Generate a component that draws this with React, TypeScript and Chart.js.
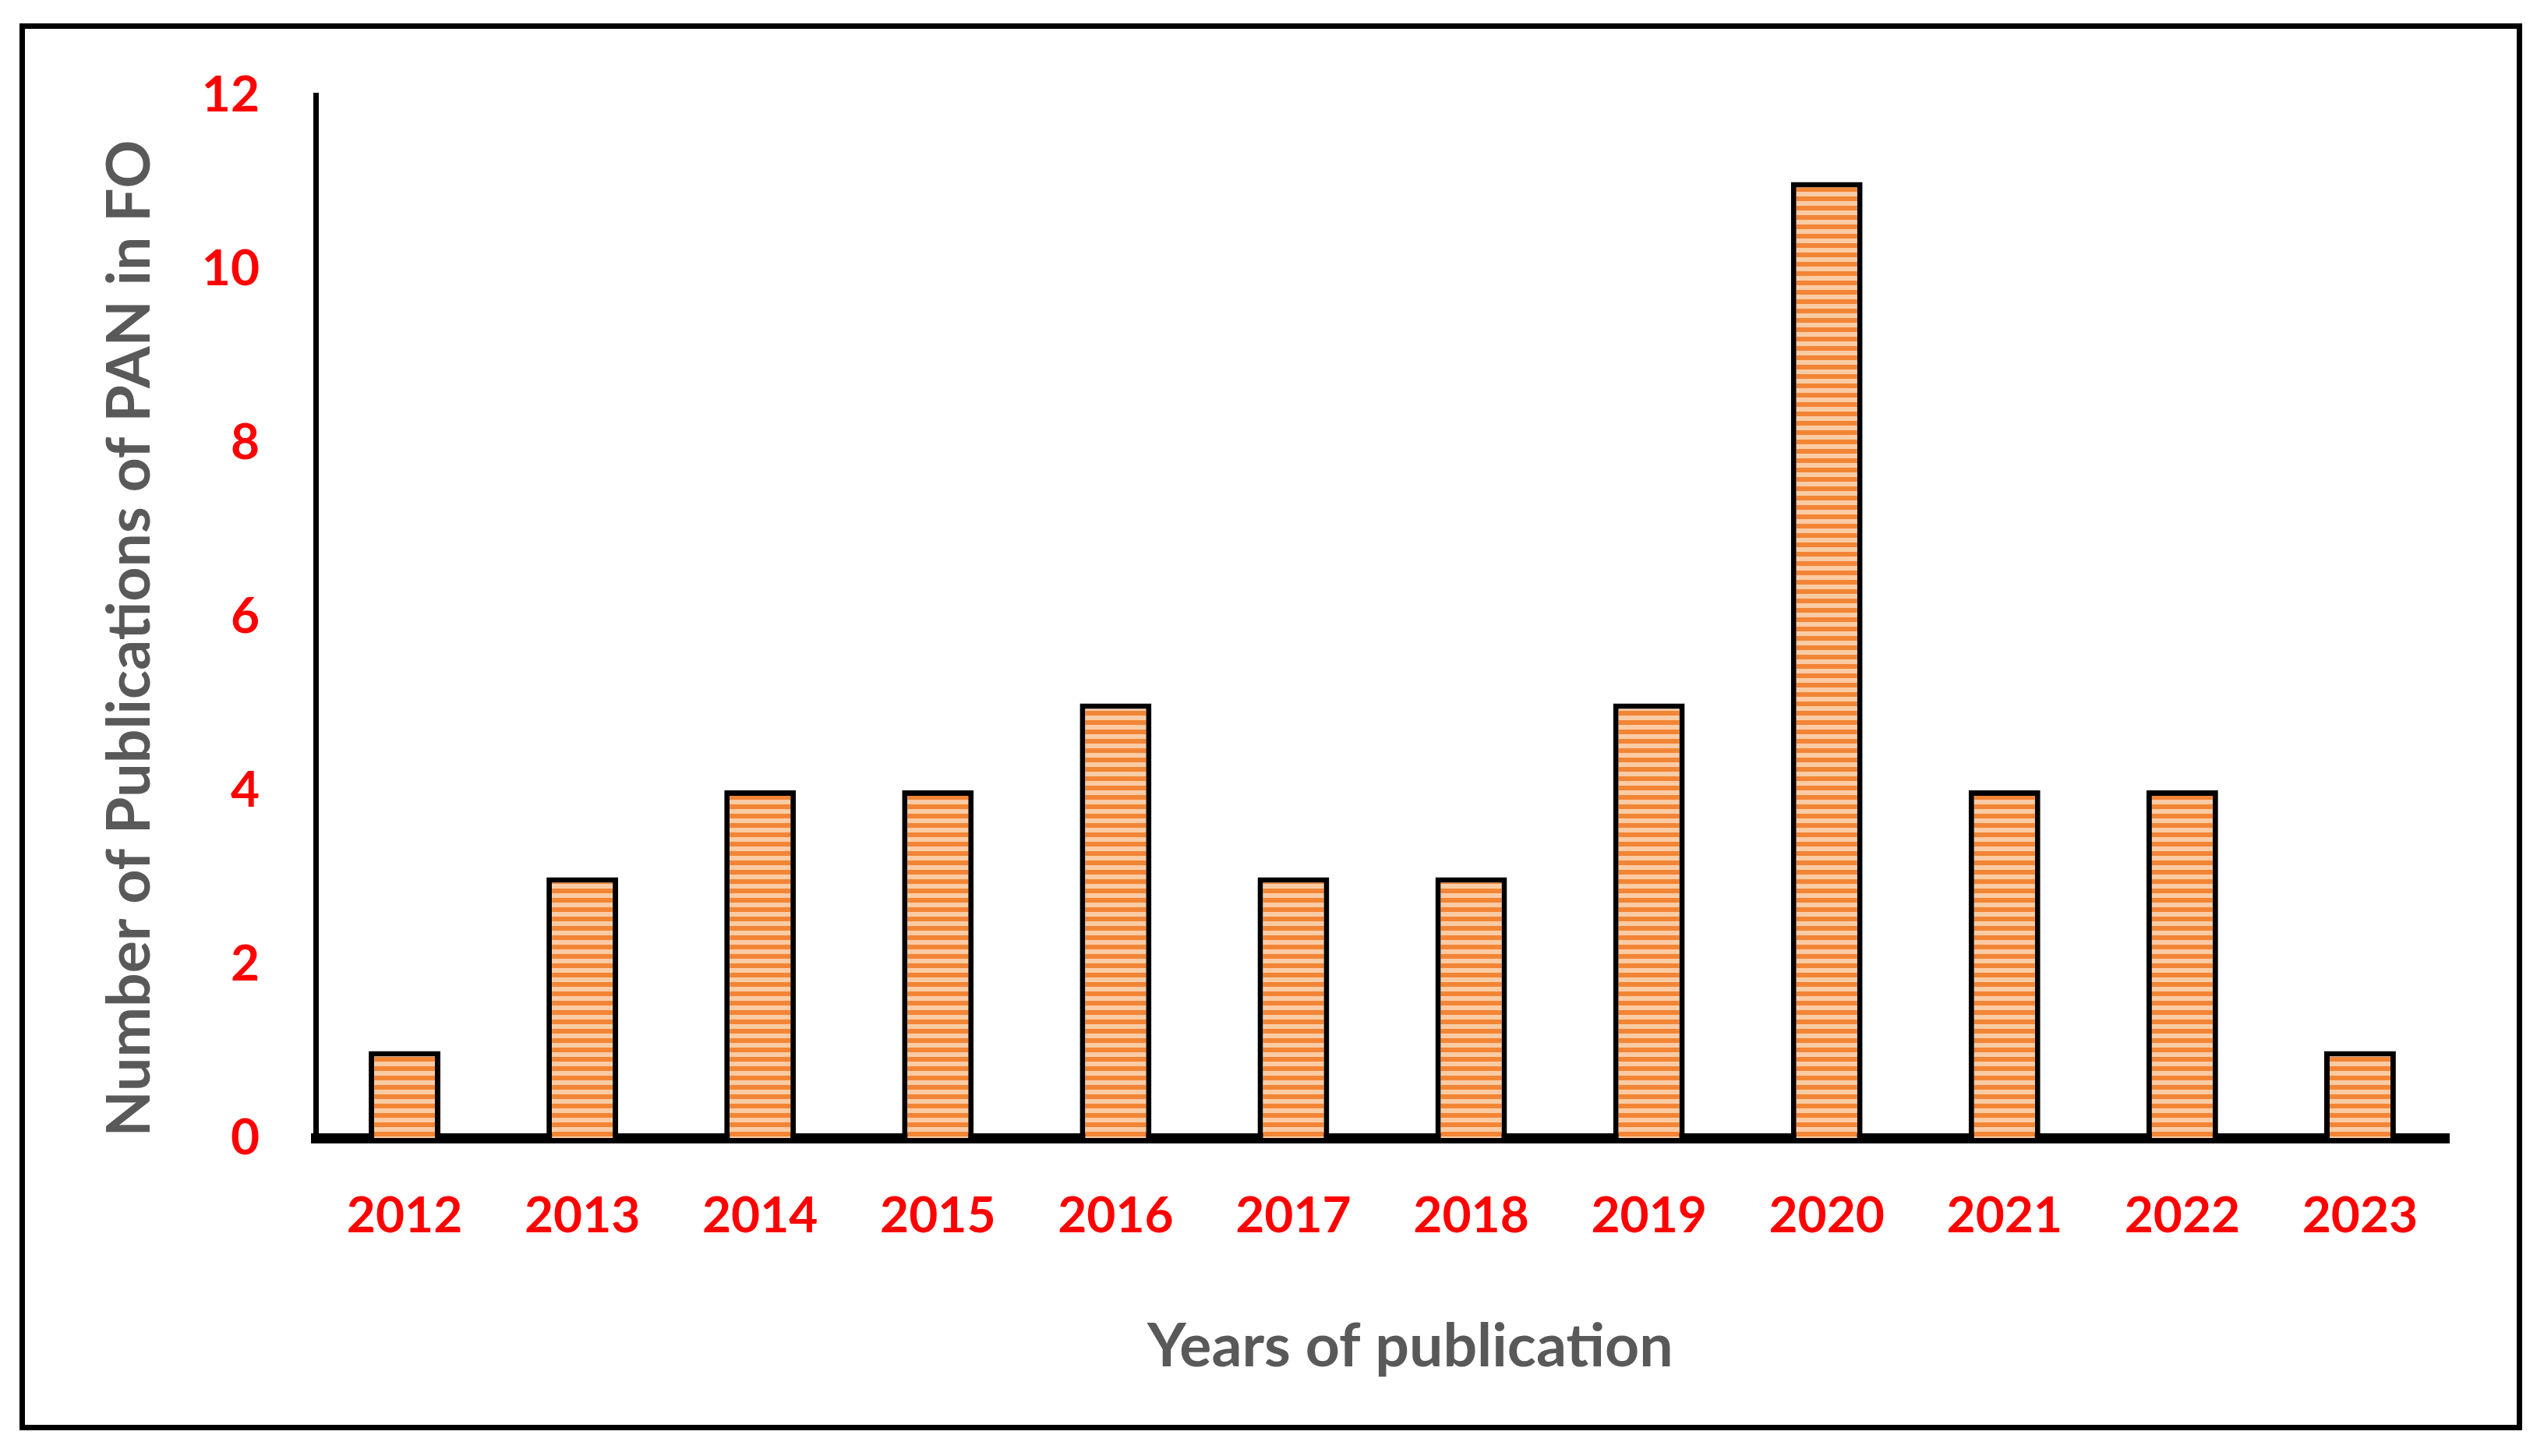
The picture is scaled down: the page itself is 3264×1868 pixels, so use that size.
import React, { useEffect, useRef } from 'react';
import { Chart, registerables } from 'chart.js';

Chart.register(...registerables);

const years = ['2012', '2013', '2014', '2015', '2016', '2017', '2018', '2019', '2020', '2021', '2022', '2023'];
const publications = [1, 3, 4, 4, 5, 3, 3, 5, 11, 4, 4, 1];
const yTickValues = [0, 2, 4, 6, 8, 10, 12];
const xTitle = 'Years of publication';
const yTitle = 'Number of Publications of PAN in FO';

const W = 3264;
const H = 1868;
const FONT = 'Lato';

function makeStripe(): CanvasPattern | string {
  const c = document.createElement('canvas');
  c.width = 12;
  c.height = 12;
  const g = c.getContext('2d');
  if (!g) return '#F4A060';
  g.fillStyle = '#FBCBA4';
  g.fillRect(0, 0, 12, 12);
  g.fillStyle = '#F28535';
  g.fillRect(0, 0, 12, 6);
  return g.createPattern(c, 'repeat') || '#F4A060';
}

export default function App() {
  const ref = useRef<HTMLCanvasElement | null>(null);

  useEffect(() => {
    if (!ref.current) return;
    const chart = new Chart(ref.current, {
      type: 'bar',
      data: {
        labels: years,
        datasets: [
          {
            data: publications,
            backgroundColor: makeStripe() as any,
            borderColor: '#000000',
            borderWidth: 7,
            categoryPercentage: 1,
            barPercentage: 0.403,
          },
        ],
      },
      options: {
        responsive: false,
        animation: false,
        layout: { padding: { left: 0, top: 122, right: 122, bottom: 0 } },
        plugins: { legend: { display: false }, tooltip: { enabled: false } },
        scales: {
          x: {
            grid: { display: false, drawTicks: false },
            border: { display: true, color: '#000000', width: 13 },
            ticks: {
              color: '#FF0000',
              padding: 62,
              font: { family: FONT, size: 64, weight: 'bold' },
            },
            title: {
              display: true,
              text: '\u00A0\u00A0\u00A0\u00A0' + xTitle,
              color: '#595959',
              font: { family: FONT, size: 77, weight: 'bold' },
              padding: { top: 0, bottom: 94 },
            },
            afterFit: (s: any) => {
              s.height = H - 1460;
            },
          },
          y: {
            min: 0,
            max: 12,
            grid: { display: false, drawTicks: false },
            border: { display: true, color: '#000000', width: 7 },
            afterBuildTicks: (s: any) => {
              s.ticks = yTickValues.map((v) => ({ value: v }));
            },
            ticks: {
              color: '#FF0000',
              padding: 72,
              font: { family: FONT, size: 64, weight: 'bold' },
            },
            title: {
              display: true,
              text: yTitle + '\u00A0\u00A0\u00A0',
              color: '#595959',
              font: { family: FONT, size: 77, weight: 'bold' },
              padding: { top: 121, bottom: 0 },
            },
            afterFit: (s: any) => {
              s.width = 405;
            },
          },
        },
      },
    });
    return () => chart.destroy();
  }, []);

  return (
    <div style={{ position: 'absolute', left: 0, top: 0, width: W, height: H, background: '#ffffff' }}>
      <div
        style={{
          position: 'absolute',
          left: 25,
          top: 30,
          width: 3211,
          height: 1805,
          border: '7px solid #000000',
          boxSizing: 'border-box',
        }}
      />
      <canvas ref={ref} width={W} height={H} style={{ position: 'absolute', left: 0, top: 0, width: W, height: H }} />
    </div>
  );
}
